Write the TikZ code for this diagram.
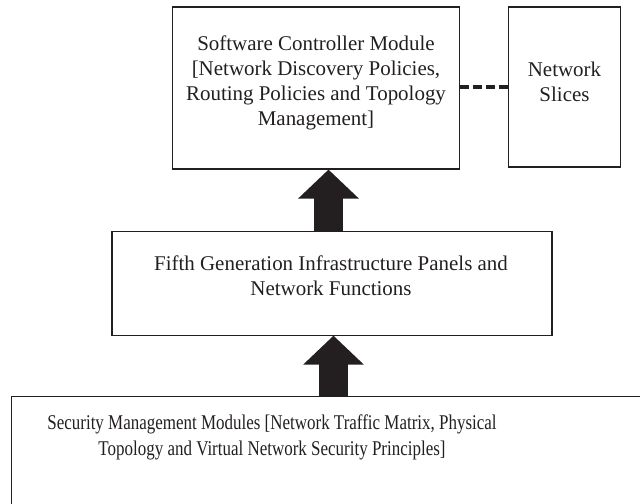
\documentclass[tikz,border=0pt]{standalone}
\usepackage{fontspec}
\setmainfont{Liberation Serif}
\newfontfamily\narrowserif[FakeStretch=0.81]{Liberation Serif}
\usetikzlibrary{arrows.meta, positioning}
\definecolor{ink}{RGB}{35,31,32}
\tikzset{
    x=0.025cm, y=-0.025cm, % one unit per pixel, y grows downwards
    box/.style={draw=ink, line width=0.8pt, inner sep=0pt}, % plain rectangles
    txt/.style={text=ink, align=center, inner sep=0pt,
        font=\fontsize{14.9}{17.8}\selectfont}, % labels inside the boxes
    bigarrow/.style={draw=ink, line width=20.6pt,
        -{Triangle[width=42pt, length=20.6pt]}}, % fat block arrows
    link/.style={draw=ink, line width=2.4pt, dash pattern=on 6.5pt off 2.7pt},
    }

\begin{document}
\begin{tikzpicture}
    \useasboundingbox (0,0) rectangle (640,504);
    \clip (0,0) rectangle (640,504);
    % boxes
    \node[box, minimum width=7.16cm, minimum height=4.05cm] (ctrl) at (316,88) {};
    \node[box, minimum width=2.78cm, minimum height=4.0cm] (slices) at (564.5,87) {};
    \node[box, minimum width=11cm, minimum height=2.58cm] (infra) at (332,283.5) {};
    \node[box, minimum width=16.2cm, minimum height=3.33cm] (secmod) at (336,463.5) {};
    % texts
    \node[txt] (ctrltxt) at (316,82.5) {Software Controller Module\\
        {[}Network Discovery Policies,\\ Routing Policies and Topology\\ Management]};
    \node[txt] (slicestxt) at (564.5,81.5) {Network\\ Slices};
    \node[txt] (infratxt) at (331,275.5) {Fifth Generation Infrastructure Panels and\\
        Network Functions};
    \node[txt, font=\narrowserif\fontsize{14.9}{18.4}\selectfont] (sectxt) at (272,437)
        {Security Management Modules [Network Traffic Matrix, Physical\\
        Topology and Virtual Network Security Principles]};
    % connections
    \draw[link] (ctrl.east |- slices.west) -- (slices.west);
    \draw[bigarrow] (infra.north -| 328.5,0) -- (ctrl.south -| 328.5,0);
    \draw[bigarrow] (secmod.north -| 333.5,0) -- (infra.south -| 333.5,0);
\end{tikzpicture}
\end{document}
